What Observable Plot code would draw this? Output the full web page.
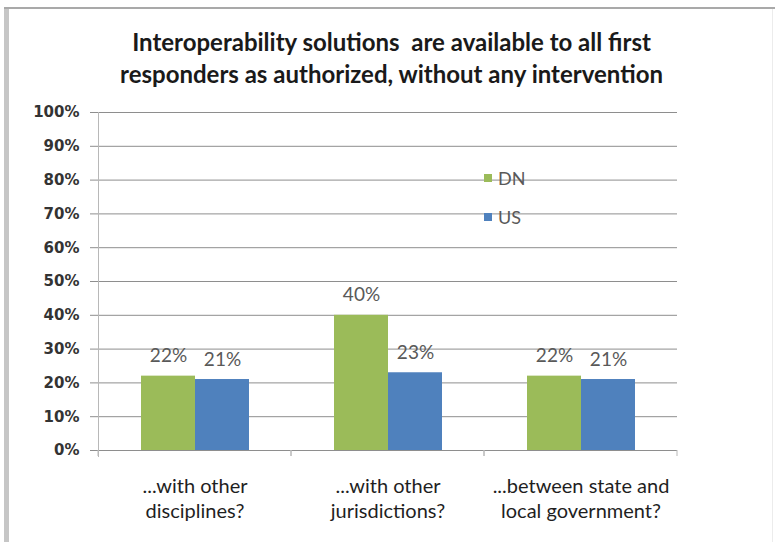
<!DOCTYPE html>
<html>
<head>
<meta charset="utf-8">
<script src="https://cdn.jsdelivr.net/npm/d3@7"></script>
<script src="https://cdn.jsdelivr.net/npm/@observablehq/plot@0.6"></script>
<style>
  html, body { margin: 0; padding: 0; background: #fff; }
  #wrap { position: relative; width: 775px; height: 542px; overflow: hidden; background: #fff; }
  #borderLeft { position: absolute; left: 4px; top: 7px; width: 5px; height: 535px; background: #c6c6c6; }
  #borderTop { position: absolute; left: 4px; top: 7px; width: 771px; height: 2px; background: #a9a9a9; }
  #borderRight { position: absolute; left: 772px; top: 9px; width: 1px; height: 533px; background: #ececec; }
  #title { position: absolute; left: 4px; top: 26px; width: 775px; text-align: center;
           font-family: Lato, "Noto Sans", sans-serif; font-weight: bold; font-size: 24px; line-height: 32px; color: #1a1a1a; }
  #chart { position: absolute; left: 0; top: 0; }
  #legend { position: absolute; left: 484px; top: 158px; font-family: Lato, "Noto Sans", sans-serif; font-size: 18px; color: #595959; }
  .item { height: 39px; display: flex; align-items: center; }
  .sw { width: 8px; height: 8px; margin-right: 6px; }
</style>
</head>
<body>
<div id="wrap">
  <div id="borderLeft"></div>
  <div id="borderTop"></div>
  <div id="borderRight"></div>
  <div id="chart"></div>
  <div id="title">Interoperability solutions&nbsp; are available to all first<br>responders as authorized, without any intervention</div>
  <div id="legend"></div>
</div>
<script>
const categories = ["...with other\ndisciplines?", "...with other\njurisdictions?", "...between state and\nlocal government?"];
const series = ["DN", "US"];
const seriesColors = ["#9bbb59", "#4f81bd"];
const dnValues = [0.22, 0.40, 0.22];
const usValues = [0.21, 0.23, 0.21];
const yTicks = [0, 0.1, 0.2, 0.3, 0.4, 0.5, 0.6, 0.7, 0.8, 0.9, 1];
const yTickLabels = ["0%", "10%", "20%", "30%", "40%", "50%", "60%", "70%", "80%", "90%", "100%"];

const data = categories.flatMap((c, i) => [
  {category: c, series: series[0], value: dnValues[i]},
  {category: c, series: series[1], value: usValues[i]}
]);

const gridColor = "#8e8e8e";
const axisColor = "#b8b8b8";

// boundary ticks below the category axis (repeated in each facet)
function boundaryTicks(index, scales, values, dimensions) {
  const g = d3.create("svg:g");
  const r = scales.x.range ? scales.x.range() : [dimensions.marginLeft, dimensions.width - dimensions.marginRight];
  const y0 = scales.y(0);
  for (const xv of r) {
    g.append("line").attr("x1", xv).attr("x2", xv).attr("y1", y0).attr("y2", y0 + 6)
      .attr("stroke", axisColor).attr("stroke-width", 1);
  }
  return g.node();
}

const chart = Plot.plot({
  width: 775,
  height: 542,
  marginTop: 112,
  marginBottom: 92,
  marginLeft: 98,
  marginRight: 98,
  style: {background: "transparent", fontFamily: "Lato, 'Noto Sans', sans-serif", color: "#333"},
  fx: {domain: categories, paddingInner: 0, paddingOuter: 0, label: null, axis: null},
  x: {domain: series, paddingInner: 0, paddingOuter: 0.755, axis: null},
  y: {domain: [0, 1], axis: null},
  color: {domain: series, range: seriesColors},
  marks: [
    Plot.gridY(yTicks, {stroke: gridColor, strokeOpacity: 1}),
    Plot.axisY(yTicks, {
      tickFormat: d => yTickLabels[yTicks.indexOf(d)],
      tickSize: 8, tickPadding: 11, stroke: gridColor, strokeOpacity: 1,
      fill: "#333", fontSize: 15, fontWeight: "bold", fontFamily: "'DejaVu Sans', sans-serif",
      label: null
    }),
    Plot.frame({anchor: "left", facetAnchor: "left", stroke: axisColor, insetBottom: -6}),
    boundaryTicks,
    Plot.barY(data, {fx: "category", x: "series", y: "value", fill: "series"}),
    Plot.text(data, {fx: "category", x: "series", y: "value", text: d => Math.round(d.value * 100) + "%",
      dy: -20, fill: "#595959", fontSize: 19, lineAnchor: "middle"}),
    Plot.axisFx({anchor: "bottom", tickSize: 0, tickPadding: 25, lineAnchor: "top", lineHeight: 1.25,
      fontSize: 20, fill: "#1f1f1f", label: null})
  ]
});
document.getElementById("chart").appendChild(chart);

const legend = document.getElementById("legend");
series.forEach((s, i) => {
  const item = document.createElement("div");
  item.className = "item";
  const sw = document.createElement("span");
  sw.className = "sw";
  sw.style.background = seriesColors[i];
  const t = document.createElement("span");
  t.textContent = s;
  item.appendChild(sw);
  item.appendChild(t);
  legend.appendChild(item);
});
</script>
</body>
</html>
